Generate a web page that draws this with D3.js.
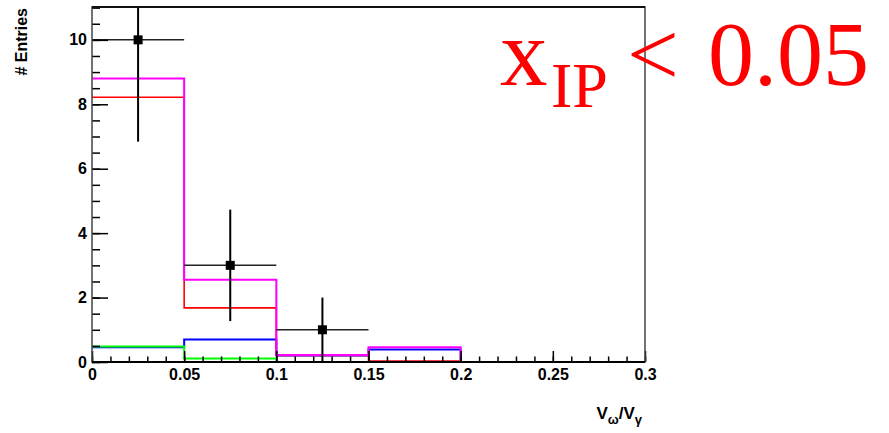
<!DOCTYPE html>
<html><head><meta charset="utf-8">
<script src="https://cdn.jsdelivr.net/npm/d3@7"></script>
<style>body{margin:0;background:#fff;} svg{display:block;}</style>
</head><body><svg id="c" width="889" height="433"></svg>
<script>
// ---- data ----
const binEdges = [0, 0.05, 0.1, 0.15, 0.2, 0.25, 0.3];
const magentaHist = [8.8, 2.55, 0.22, 0.46, 0, 0];
const redHist     = [8.22, 1.68, 0.2, 0.03, 0, 0];
const blueHist    = [0.46, 0.7, 0.2, 0.39, 0, 0];
const greenHist   = [0.48, 0.11, 0, 0, 0, 0];
const pointX   = [0.025, 0.075, 0.125];
const pointY   = [10, 3, 1];
const pointErrY = [3.16, 1.73, 1.0];
const pointErrX = [0.025, 0.025, 0.025];
const xMajorTicks = [0, 0.05, 0.1, 0.15, 0.2, 0.25, 0.3];
const xTickLabels = ["0", "0.05", "0.1", "0.15", "0.2", "0.25", "0.3"];
const yMajorTicks = [0, 2, 4, 6, 8, 10];
const yTickLabels = ["0", "2", "4", "6", "8", "10"];

// ---- layout ----
const L = 92, R = 645, T = 7, B = 362;
const svg = d3.select("#c");
const x = d3.scaleLinear().domain([0, 0.3]).range([L, R]);
const y = d3.scaleLinear().domain([0, 11.02]).range([B, T]);

svg.append("clipPath").attr("id", "clip").append("rect")
  .attr("x", L).attr("y", T).attr("width", R - L).attr("height", B - T);
const plot = svg.append("g").attr("clip-path", "url(#clip)");

function stepData(vals) {
  const pts = vals.map((v, i) => [binEdges[i], v]);
  pts.push([binEdges[binEdges.length - 1], vals[vals.length - 1]]);
  return pts;
}
const line = d3.line().x(d => x(d[0])).y(d => y(d[1])).curve(d3.curveStepAfter);
[[blueHist, "#0000ff", 2], [greenHist, "#00ff00", 2], [redHist, "#ff0000", 1.6], [magentaHist, "#ff00ff", 2]]
  .forEach(([vals, col, w]) => {
    plot.append("path").attr("d", line(stepData(vals)))
      .attr("fill", "none").attr("stroke", col).attr("stroke-width", w);
  });

// data points with errors
pointX.forEach((px, i) => {
  plot.append("line").attr("x1", x(px - pointErrX[i])).attr("x2", x(px + pointErrX[i]))
    .attr("y1", y(pointY[i])).attr("y2", y(pointY[i]))
    .attr("stroke", "#222").attr("stroke-width", 1.5);
  plot.append("line").attr("x1", x(px)).attr("x2", x(px))
    .attr("y1", y(pointY[i] - pointErrY[i])).attr("y2", y(pointY[i] + pointErrY[i]))
    .attr("stroke", "#000").attr("stroke-width", 2);
  plot.append("rect").attr("x", x(px) - 4.5).attr("y", y(pointY[i]) - 4.5)
    .attr("width", 9).attr("height", 9).attr("fill", "#000");
});

// axes
const font = "'Liberation Sans', Arial, sans-serif";
const xMinor = d3.range(0, 0.3001, 0.01);
const yMinor = d3.range(0, 11.01, 0.5);
svg.append("g").attr("transform", `translate(0,${B})`)
  .call(d3.axisBottom(x).tickValues(xMinor).tickSize(-5.5).tickFormat(""))
  .call(g => g.select(".domain").remove())
  .selectAll("line").attr("stroke", "#000").attr("stroke-width", 1.5);
svg.append("g").attr("transform", `translate(0,${B})`)
  .call(d3.axisBottom(x).tickValues(xMajorTicks).tickSize(-11).tickPadding(7)
    .tickFormat((d, i) => xTickLabels[i]))
  .call(g => g.select(".domain").remove())
  .call(g => g.selectAll("line").attr("stroke", "#000").attr("stroke-width", 1.5))
  .call(g => g.selectAll("text").attr("font-family", font).attr("font-weight", "bold")
    .attr("font-size", 16).attr("fill", "#000"));
svg.append("g").attr("transform", `translate(${L},0)`)
  .call(d3.axisLeft(y).tickValues(yMinor).tickSize(-8).tickFormat(""))
  .call(g => g.select(".domain").remove())
  .selectAll("line").attr("stroke", "#000").attr("stroke-width", 1.5);
svg.append("g").attr("transform", `translate(${L},0)`)
  .call(d3.axisLeft(y).tickValues(yMajorTicks).tickSize(-16).tickPadding(5)
    .tickFormat((d, i) => yTickLabels[i]))
  .call(g => g.select(".domain").remove())
  .call(g => g.selectAll("line").attr("stroke", "#000").attr("stroke-width", 1.5))
  .call(g => g.selectAll("text").attr("font-family", font).attr("font-weight", "bold")
    .attr("font-size", 16).attr("fill", "#000"));

// frame
svg.append("rect").attr("x", L).attr("y", T).attr("width", R - L).attr("height", B - T)
  .attr("fill", "none").attr("stroke", "#444").attr("stroke-width", 1.5);
svg.append("line").attr("x1", L).attr("x2", R).attr("y1", B).attr("y2", B)
  .attr("stroke", "#000").attr("stroke-width", 2);
svg.append("line").attr("x1", L).attr("x2", R).attr("y1", T).attr("y2", T)
  .attr("stroke", "#111").attr("stroke-width", 2);

// axis titles
svg.append("text").attr("transform", "translate(27,8) rotate(-90)")
  .attr("text-anchor", "end").attr("font-family", font).attr("font-weight", "bold")
  .attr("font-size", 16).text("# Entries");
const xt = svg.append("text").attr("x", 642).attr("y", 419).attr("text-anchor", "end")
  .attr("font-family", font).attr("font-weight", "bold").attr("font-size", 17);
xt.append("tspan").text("V");
xt.append("tspan").attr("dy", 5).attr("font-size", 13).text("ω");
xt.append("tspan").attr("dy", -5).text("/V");
xt.append("tspan").attr("dy", 5).attr("font-size", 13).text("γ");

// big red label
const serif = "'Liberation Serif', 'Times New Roman', serif";
svg.append("text").attr("x", 500).attr("y", 85).attr("font-family", serif)
  .attr("font-size", 95).attr("fill", "#ff0000").text("x");
svg.append("text").attr("x", 551).attr("y", 107).attr("font-family", serif)
  .attr("font-size", 64).attr("fill", "#ff0000").text("IP");
svg.append("text").attr("x", 627).attr("y", 85).attr("font-family", serif)
  .attr("font-size", 92).attr("fill", "#ff0000").text("<");
svg.append("text").attr("x", 708).attr("y", 85).attr("font-family", serif)
  .attr("font-size", 92).attr("fill", "#ff0000").text("0.05");
</script></body></html>
